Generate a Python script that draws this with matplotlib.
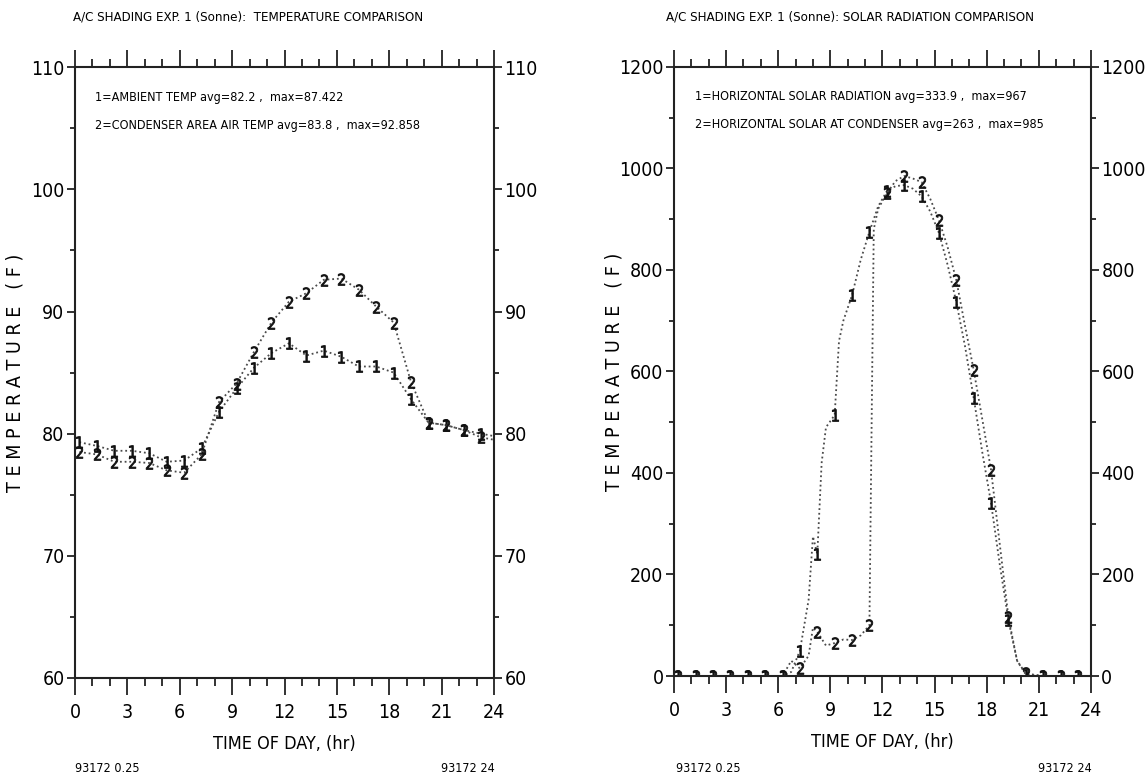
import matplotlib
matplotlib.use('Agg')
import matplotlib.pyplot as plt
from matplotlib import font_manager
from matplotlib.ticker import MultipleLocator

# temperature comparison, hourly readings
temp_hours = [0.25, 1.25, 2.25, 3.25, 4.25, 5.25, 6.25, 7.25, 8.25, 9.25, 10.25, 11.25,
              12.25, 13.25, 14.25, 15.25, 16.25, 17.25, 18.25, 19.25, 20.25, 21.25, 22.25, 23.25, 24.0]
ambient_temp = [79.3, 79.0, 78.6, 78.6, 78.4, 77.7, 77.8, 78.8, 81.8, 83.7, 85.4, 86.6,
                87.4, 86.4, 86.8, 86.3, 85.5, 85.5, 85.0, 82.8, 80.9, 80.7, 80.3, 80.0, 79.8]
condenser_temp = [78.5, 78.3, 77.7, 77.7, 77.6, 77.0, 76.8, 78.3, 82.6, 84.1, 86.7, 89.1,
                  90.8, 91.5, 92.6, 92.7, 91.8, 90.4, 89.1, 84.2, 80.9, 80.7, 80.3, 79.7, 79.5]

# solar radiation comparison
sol1_hours = [0.25, 1.25, 2.25, 3.25, 4.25, 5.25, 6.25, 6.75, 7.25, 7.75, 8.0, 8.25, 8.5,
              8.75, 9.25, 9.5, 9.75, 10.25, 10.75, 11.25, 11.75, 12.25, 12.75, 13.25, 13.75,
              14.25, 14.75, 15.25, 15.75, 16.25, 16.75, 17.25, 17.75, 18.25, 18.75, 19.25,
              19.75, 20.25, 21.25, 22.25, 23.25, 24.0]
sol1_vals = [0, 0, 0, 0, 0, 0, 0, 8, 50, 150, 275, 240, 420,
             490, 514, 660, 700, 750, 820, 875, 925, 955, 965, 967, 960,
             945, 915, 873, 810, 737, 650, 548, 440, 341, 220, 110,
             30, 3, 0, 0, 0, 0]
sol2_hours = [0.25, 1.25, 2.25, 3.25, 4.25, 5.25, 6.25, 6.75, 7.25, 7.75, 8.0, 8.25, 8.75,
              9.25, 9.75, 10.25, 10.75, 11.25, 11.5, 11.75, 12.25, 12.75, 13.25, 13.75,
              14.25, 14.75, 15.25, 15.75, 16.25, 16.75, 17.25, 17.75, 18.25, 18.75, 19.25,
              19.75, 20.25, 21.25, 22.25, 23.25, 24.0]
sol2_vals = [0, 0, 0, 0, 0, 0, 0, 30, 15, 40, 95, 87, 60,
             65, 72, 71, 80, 100, 880, 920, 951, 975, 985, 980,
             973, 940, 898, 845, 780, 690, 603, 505, 406, 260, 116,
             30, 5, 0, 0, 0, 0]


# the original uses a narrow plotter font; take a condensed face if one is installed
def pick_narrow():
    for f in font_manager.fontManager.ttflist:
        nm = f.name
        st = str(f.stretch)
        narrow = ('Narrow' in nm or 'Condensed' in nm or
                  st in ('condensed', 'semi-condensed', 'extra-condensed', 'ultra-condensed'))
        if narrow and 'Mono' not in nm and 'Serif' not in nm and str(f.weight) in ('400', 'normal', 'regular', 'book'):
            return f
    return None


nf = pick_narrow()
if nf is not None:
    plt.rcParams['font.family'] = [nf.name, 'DejaVu Sans']
    plt.rcParams['font.stretch'] = nf.stretch
    k = 1.0
else:
    plt.rcParams['font.family'] = ['DejaVu Sans']
    k = 0.85

line_kw = dict(color='#4a4a4a', linestyle=(0, (1, 1.6)), linewidth=1.3)
mark_kw = dict(markersize=8.5, markeredgewidth=0.6, markerfacecolor='#111', markeredgecolor='#111')


def marks(hours):
    # a numbered marker at each whole-hour reading
    return [i for i, h in enumerate(hours) if abs(h % 1 - 0.25) < 1e-6]


def style_axes(ax, ymin, ymax, major, minor):
    ax.set_xlim(0, 24)
    ax.set_ylim(ymin, ymax)
    ax.xaxis.set_major_locator(MultipleLocator(3))
    ax.xaxis.set_minor_locator(MultipleLocator(1))
    ax.yaxis.set_major_locator(MultipleLocator(major))
    ax.yaxis.set_minor_locator(MultipleLocator(minor))
    ax.tick_params(which='both', direction='out', top=True, right=True,
                   labelright=True, color='#222', width=1.3)
    ax.tick_params(axis='x', which='major', length=12, labelsize=14 * k, pad=6)
    ax.tick_params(axis='x', which='minor', length=6)
    ax.tick_params(axis='y', which='major', length=5.5, labelsize=14 * k, pad=2)
    ax.tick_params(axis='y', which='minor', length=3.5)
    for s in ax.spines.values():
        s.set_linewidth(1.5)
        s.set_color('#222')
    ax.set_xlabel('TIME OF DAY, (hr)', fontsize=13 * k, va='top')
    ax.xaxis.set_label_coords(0.5, -0.094)
    ax.set_ylabel('T E M P E R A T U R E   ( F )', fontsize=14 * k)
    ax.yaxis.set_label_coords(-0.12, 0.5)


fig = plt.figure(figsize=(11.45, 7.8), dpi=100)
ax1 = fig.add_axes([0.0655, 0.1308, 0.366, 0.783])
ax2 = fig.add_axes([0.5886, 0.1333, 0.3642, 0.781])

ax1.plot(temp_hours, ambient_temp, marker='$1$', markevery=marks(temp_hours), **mark_kw, **line_kw)
ax1.plot(temp_hours, condenser_temp, marker='$2$', markevery=marks(temp_hours), **mark_kw, **line_kw)
style_axes(ax1, 60, 110, 10, 5)
ax1.text(0.048, 0.951, '1=AMBIENT TEMP avg=82.2 ,  max=87.422', transform=ax1.transAxes,
         fontsize=9 * k, va='center')
ax1.text(0.048, 0.905, '2=CONDENSER AREA AIR TEMP avg=83.8 ,  max=92.858', transform=ax1.transAxes,
         fontsize=9 * k, va='center')

ax2.plot(sol1_hours, sol1_vals, marker='$1$', markevery=marks(sol1_hours), **mark_kw, **line_kw)
ax2.plot(sol2_hours, sol2_vals, marker='$2$', markevery=marks(sol2_hours), **mark_kw, **line_kw)
style_axes(ax2, 0, 1200, 200, 100)
ax2.text(0.05, 0.951, '1=HORIZONTAL SOLAR RADIATION avg=333.9 ,  max=967', transform=ax2.transAxes,
         fontsize=9 * k, va='center')
ax2.text(0.05, 0.905, '2=HORIZONTAL SOLAR AT CONDENSER avg=263 ,  max=985', transform=ax2.transAxes,
         fontsize=9 * k, va='center')

fig.text(73 / 1145, 1 - 17 / 780, 'A/C SHADING EXP. 1 (Sonne):  TEMPERATURE COMPARISON',
         fontsize=9.5 * k, va='center')
fig.text(666 / 1145, 1 - 17 / 780, 'A/C SHADING EXP. 1 (Sonne): SOLAR RADIATION COMPARISON',
         fontsize=9.5 * k, va='center')
fig.text(75 / 1145, 1 - 768 / 780, '93172 0.25', fontsize=9 * k, va='center')
fig.text(495 / 1145, 1 - 768 / 780, '93172 24', fontsize=9 * k, va='center', ha='right')
fig.text(676 / 1145, 1 - 768 / 780, '93172 0.25', fontsize=9 * k, va='center')
fig.text(1092 / 1145, 1 - 768 / 780, '93172 24', fontsize=9 * k, va='center', ha='right')

fig.savefig('out.png', dpi=100)
